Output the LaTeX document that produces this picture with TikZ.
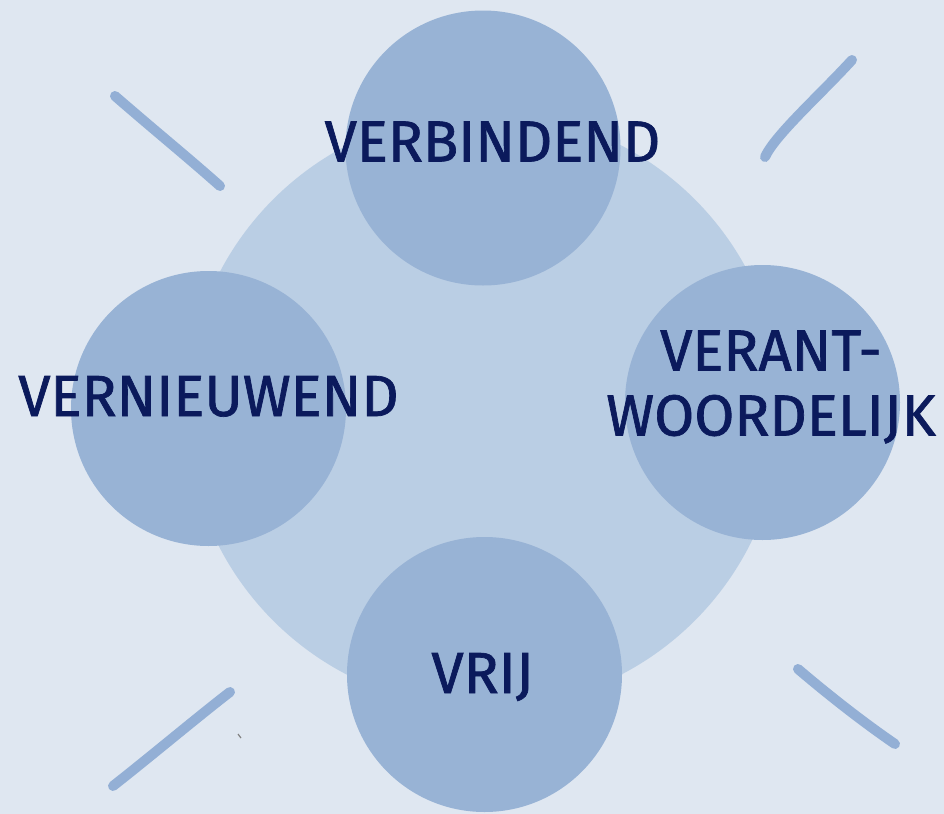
\documentclass[tikz,border=0pt]{standalone}
\usepackage{fontspec}
\setmainfont{Fira Sans}
\newfontfamily\labelfont{Fira Sans}[FakeBold=1.2]
\definecolor{bgblue}{HTML}{DFE7F1}
\definecolor{ringblue}{HTML}{BACEE4}
\definecolor{bubbleblue}{HTML}{98B3D5}
\definecolor{strokeblue}{HTML}{93AFD5}
\definecolor{inkblue}{HTML}{0B1A5C}
\tikzset{
  value/.style={text=inkblue, inner sep=0pt, align=center,
    font=\labelfont\fontsize{29}{32.5}\selectfont},
  brush/.style={strokeblue, line width=5pt, line cap=round},
}
\begin{document}
\begin{tikzpicture}[x=0.5pt,y=-0.5pt]
  \def\rbig{149pt}
  \def\rsmol{68.75pt}
  \fill[bgblue] (0,0) rectangle (944,814);
  \useasboundingbox (0,0) rectangle (944,814);
  % big ring behind
  \fill[ringblue] (484,410) circle[radius=\rbig];
  % four bubbles
  \fill[bubbleblue] (483,148) circle[radius=\rsmol];
  \fill[bubbleblue] (208.5,408.5) circle[radius=\rsmol];
  \fill[bubbleblue] (762.5,402.5) circle[radius=\rsmol];
  \fill[bubbleblue] (484.5,674.5) circle[radius=\rsmol];
  % brush strokes in the corners
  \draw[brush] (115,96) .. controls (160,135) and (185,155) .. (220,186);
  \draw[brush] (852,60) .. controls (820,95) and (775,135) .. (765,157);
  \draw[brush] (230,692) .. controls (200,715) and (150,757) .. (113,786);
  \draw[brush] (798,669) .. controls (825,692) and (860,720) .. (895,744);
  \draw[gray, line width=0.6pt] (238,734) -- (241,738);
  % labels
  \node[value, anchor=base] (verbindend) at (492.5,161.5) {VERBINDEND};
  \node[value, anchor=base] (vernieuwend) at (208.5,416) {VERNIEUWEND};
  \node[value] (verantwoordelijk) at (771,387) {VERANT-\\WOORDELIJK};
  \node[value, anchor=base] (vrij) at (482.5,693) {VRIJ};
\end{tikzpicture}
\end{document}
